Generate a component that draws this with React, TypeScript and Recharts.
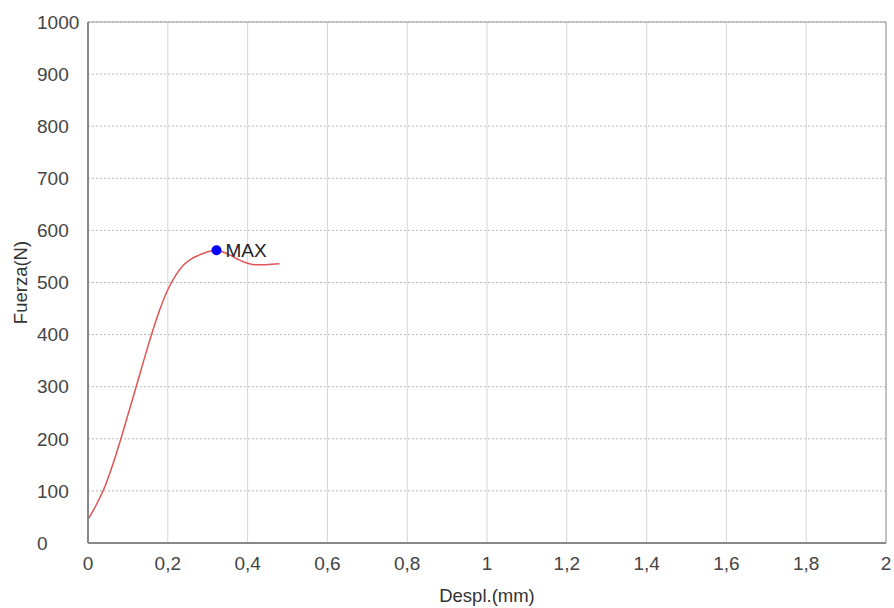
import React from "react";
import {
  ComposedChart,
  Line,
  XAxis,
  YAxis,
  CartesianGrid,
  ReferenceDot,
  ReferenceLine,
} from "recharts";

// ensayo: desplazamiento (mm) vs fuerza (N)
const desplMm = [
  0, 0.02, 0.04, 0.06, 0.08, 0.1, 0.12, 0.14, 0.16, 0.18, 0.2, 0.22, 0.24,
  0.26, 0.28, 0.3, 0.322, 0.34, 0.36, 0.38, 0.4, 0.42, 0.44, 0.46, 0.48,
];
const fuerzaN = [
  45, 72, 104, 146, 194, 246, 298, 351, 402, 448, 486, 514, 534, 546, 553,
  559, 562, 558, 551, 543, 537, 534, 534, 535, 536,
];
const maxPoint = { x: 0.322, y: 562, label: "MAX" };
const xTicks = [0, 0.2, 0.4, 0.6, 0.8, 1, 1.2, 1.4, 1.6, 1.8, 2];
const yTicks = [0, 100, 200, 300, 400, 500, 600, 700, 800, 900, 1000];

const data = desplMm.map((d, i) => ({ despl: d, fuerza: fuerzaN[i] }));

const font = "Liberation Sans, Arial, sans-serif";
const tickStyle = { fontFamily: font, fontSize: 19, fill: "#444" };

export default function App() {
  return (
    <div style={{ position: "absolute", left: 0, top: 0 }}>
      <ComposedChart
        width={894}
        height={608}
        data={data}
        margin={{ top: 22, right: 8, bottom: 0, left: 0 }}
      >
        <CartesianGrid vertical={false} stroke="#bbb" strokeDasharray="2 2" />
        <CartesianGrid horizontal={false} stroke="#d4d4d4" />
        <XAxis
          dataKey="despl"
          type="number"
          domain={[0, 2]}
          ticks={xTicks}
          tickFormatter={(v: number) => String(v).replace(".", ",")}
          tick={tickStyle}
          tickLine={false}
          tickSize={0}
          tickMargin={14}
          height={65}
          stroke="#888"
          strokeWidth={2}
          label={{
            value: "Despl.(mm)",
            position: "insideBottom",
            offset: 6,
            style: { fontFamily: font, fontSize: 18.5, fill: "#333" },
          }}
        />
        <YAxis
          type="number"
          domain={[0, 1000]}
          ticks={yTicks}
          tick={{ ...tickStyle, textAnchor: "start" }}
          tickLine={false}
          tickSize={0}
          tickMargin={51}
          width={88}
          stroke="#888"
          strokeWidth={2}
          label={{
            value: "Fuerza(N)",
            angle: -90,
            position: "insideLeft",
            offset: 20,
            style: { fontFamily: font, fontSize: 18.5, fill: "#333", textAnchor: "middle" },
          }}
        />
        <ReferenceLine x={2} stroke="#999" />
        <ReferenceLine y={1000} stroke="#999" />
        <Line
          dataKey="fuerza"
          type="monotone"
          stroke="#e05555"
          strokeWidth={1.5}
          dot={false}
          isAnimationActive={false}
        />
        <ReferenceDot
          x={maxPoint.x}
          y={maxPoint.y}
          r={5}
          fill="#0000ff"
          stroke="none"
          label={{
            value: maxPoint.label,
            position: "right",
            offset: 4,
            style: { fontFamily: font, fontSize: 19, fill: "#222" },
          }}
        />
      </ComposedChart>
    </div>
  );
}
